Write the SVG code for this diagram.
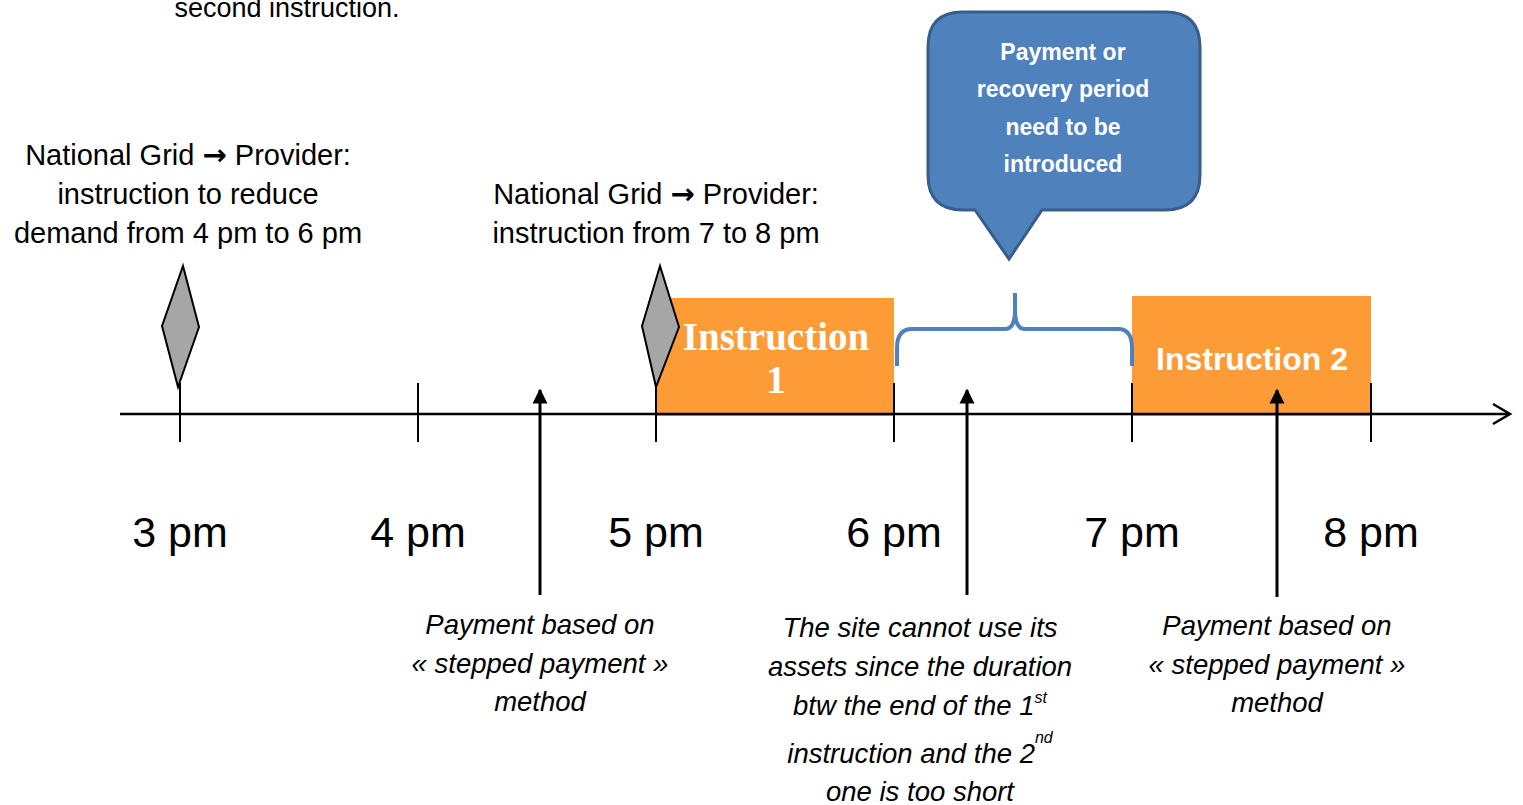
<svg xmlns="http://www.w3.org/2000/svg" width="1523" height="805" viewBox="0 0 1523 805">
<defs>
<style>
.t{font-family:"Liberation Sans",Arial,sans-serif;fill:#000;text-anchor:middle}
.lbl{font-size:29px}
.arr{font-family:"DejaVu Sans",sans-serif;font-weight:bold;font-size:29px}
.time{font-size:43px}
.it{font-size:27.5px;font-style:italic}
.tick{stroke:#000;stroke-width:2;fill:none}
.dia{fill:#a6a6a6;stroke:#000;stroke-width:2;stroke-linejoin:miter}
.inst{fill:#fd9b37}
.up{stroke:#000;stroke-width:3;fill:none}
</style>
<marker id="ah" viewBox="0 0 10 10" refX="9" refY="5" markerWidth="5" markerHeight="6" markerUnits="strokeWidth" orient="auto">
<path d="M0,0 L10,5 L0,10 z" fill="#000"/>
</marker>
</defs>
<rect width="1523" height="805" fill="#fff"/>

<text class="t" x="287" y="17" font-size="27">second instruction.</text>

<g id="note-first-instruction">
<text class="t lbl" x="188" y="165">National Grid <tspan class="arr">→</tspan> Provider:</text>
<text class="t lbl" x="188" y="204">instruction to reduce</text>
<text class="t lbl" x="188" y="243">demand from 4 pm to 6 pm</text>
</g>
<g id="note-second-instruction">
<text class="t lbl" x="656" y="204">National Grid <tspan class="arr">→</tspan> Provider:</text>
<text class="t lbl" x="656" y="243">instruction from 7 to 8 pm</text>
</g>

<g id="instruction1">
<rect class="inst" x="656" y="298" width="238" height="118"/>
<text x="776" y="350" font-family="'Liberation Serif','Times New Roman',serif" font-weight="bold" font-size="39" fill="#fff" text-anchor="middle">Instruction</text>
<text x="776" y="393" font-family="'Liberation Serif','Times New Roman',serif" font-weight="bold" font-size="39" fill="#fff" text-anchor="middle">1</text>
</g>

<g id="instruction2">
<rect class="inst" x="1132" y="296" width="239" height="120"/>
<text x="1252" y="370" font-family="'Liberation Sans',Arial,sans-serif" font-weight="bold" font-size="32" fill="#fff" text-anchor="middle">Instruction 2</text>
</g>

<g id="axis">
<line x1="120" y1="414" x2="1509" y2="414" stroke="#000" stroke-width="2.5"/>
<polyline points="1493,404 1510,414 1493,424" fill="none" stroke="#000" stroke-width="2.5"/>
<line class="tick" x1="180" y1="383" x2="180" y2="442"/>
<line class="tick" x1="418" y1="383" x2="418" y2="442"/>
<line class="tick" x1="656" y1="383" x2="656" y2="442"/>
<line class="tick" x1="894" y1="383" x2="894" y2="442"/>
<line class="tick" x1="1132" y1="383" x2="1132" y2="442"/>
<line class="tick" x1="1371" y1="383" x2="1371" y2="442"/>
</g>

<g id="diamond1"><polygon class="dia" points="183,266 199,327 178,387 162,326"/></g>
<g id="diamond2"><polygon class="dia" points="660,266 679,327 656,387 642,326"/></g>

<g id="time-labels">
<text class="t time" x="180" y="547">3 pm</text>
<text class="t time" x="418" y="547">4 pm</text>
<text class="t time" x="656" y="547">5 pm</text>
<text class="t time" x="894" y="547">6 pm</text>
<text class="t time" x="1132" y="547">7 pm</text>
<text class="t time" x="1371" y="547">8 pm</text>
</g>

<g id="brace">
<path d="M897,366 L897,348 Q897,329 912,329 L1005,329 Q1015,329 1015,310 L1015,293 M1015,310 Q1015,329 1025,329 L1118,329 Q1132,329 1132,348 L1132,366" fill="none" stroke="#4f81bd" stroke-width="4"/>
</g>

<g id="callout">
<path d="M963,12 L1165,12 Q1200,12 1200,47 L1200,175 Q1200,210 1165,210 L1042,210 L1009,259 L975,210 L963,210 Q928,210 928,175 L928,47 Q928,12 963,12 Z" fill="#4f81bd" stroke="#385d8a" stroke-width="3"/>
<g font-family="'Liberation Sans',Arial,sans-serif" font-weight="bold" font-size="23" fill="#fff" text-anchor="middle">
<text x="1063" y="60">Payment or</text>
<text x="1063" y="97">recovery period</text>
<text x="1063" y="135">need to be</text>
<text x="1063" y="172">introduced</text>
</g>
</g>

<g id="connectors">
<line class="up" x1="540" y1="595" x2="540" y2="390" marker-end="url(#ah)"/>
<line class="up" x1="967" y1="595" x2="967" y2="390" marker-end="url(#ah)"/>
<line class="up" x1="1277" y1="597" x2="1277" y2="390" marker-end="url(#ah)"/>
</g>

<g id="note-payment1">
<text class="t it" x="540" y="634">Payment based on</text>
<text class="t it" x="540" y="673">« stepped payment »</text>
<text class="t it" x="540" y="711">method</text>
</g>

<g id="note-site">
<text class="t it" x="920" y="637">The site cannot use its</text>
<text class="t it" x="920" y="676">assets since the duration</text>
<text class="t it" x="920" y="715">btw the end of the 1<tspan font-size="16" dy="-12">st</tspan></text>
<text class="t it" x="920" y="763">instruction and the 2<tspan font-size="16" dy="-20">nd</tspan></text>
<text class="t it" x="920" y="801">one is too short</text>
</g>

<g id="note-payment2">
<text class="t it" x="1277" y="635">Payment based on</text>
<text class="t it" x="1277" y="674">« stepped payment »</text>
<text class="t it" x="1277" y="712">method</text>
</g>
</svg>
